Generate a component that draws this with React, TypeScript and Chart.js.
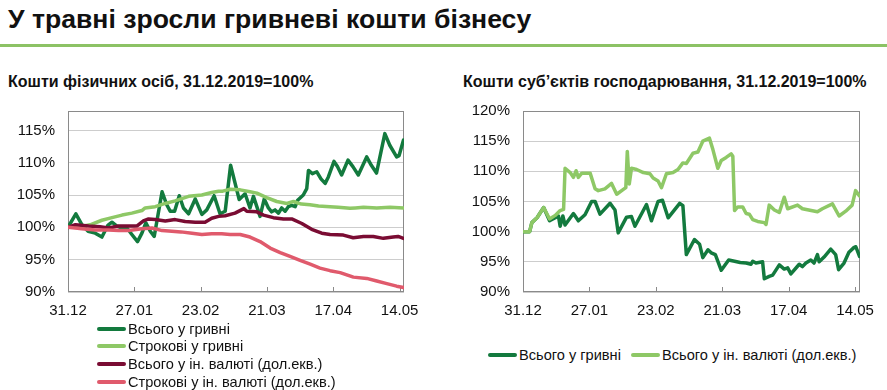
import React, { useEffect, useRef } from "react";
import { Chart, registerables } from "chart.js";

Chart.register(...registerables);

// ---------- shared ----------
const tickLabels = ["31.12", "27.01", "23.02", "21.03", "17.04", "14.05"];
const tickDays = [0, 27, 54, 81, 108, 135];

// ---------- left chart: households ----------
const hhUahTotalDays = [0, 3.2, 5.7, 8.2, 11.1, 13.8, 16.2, 17.9, 19.9, 22, 24, 26, 28.3, 30.1, 31.7, 33.5, 35.1, 38.3, 40.2, 41.6, 43.4, 45.3, 47, 49.1, 51.8, 54.5, 56.5, 59.5, 61.9, 64, 66.2, 69.7, 72.1, 74.1, 75.5, 78.2, 79.9, 81.6, 82.9, 84.3, 85.7, 87, 88.4, 89.7, 91.1, 92.5, 93.5, 95.8, 97.2, 97.9, 99.5, 101.3, 103, 104.7, 106, 108.3, 109.7, 111.4, 114, 116, 118.2, 121.6, 123.5, 125.6, 129, 131, 133.8, 134.8, 136.6];
const hhUahTotal = [100, 102.1, 100.4, 99.4, 99.1, 98.5, 100.3, 100.8, 100.2, 99.9, 99.9, 98.9, 97.8, 99.1, 100.7, 99.4, 98.6, 105.5, 103.5, 102.5, 102.5, 104.9, 103.0, 102.1, 104.4, 102.0, 102.7, 104.9, 102.1, 102.5, 109.6, 104.3, 105.2, 103.0, 104.8, 101.7, 104.4, 103.0, 102.4, 102.7, 102.2, 103.0, 102.5, 103.2, 103.4, 103.2, 104.2, 105.0, 106.0, 108.8, 108.3, 108.6, 107.5, 106.8, 107.8, 110.2, 109.4, 108.1, 110.4, 109.4, 108.1, 110.9, 109.6, 108.4, 114.5, 112.7, 110.9, 111.1, 113.5];

const hhUahTermDays = [0, 5, 9, 13.8, 17.9, 22, 26, 30.1, 31.4, 35.5, 39.6, 43.6, 49.1, 54.5, 58.5, 61.3, 63, 66, 70.1, 74.1, 76.9, 80.9, 85, 89.1, 91.8, 95, 98.5, 102, 106.7, 110, 114.8, 117, 120.3, 125.7, 131.1, 136.6];
const hhUahTerm = [100, 100.1, 100.4, 101.1, 101.5, 101.9, 102.2, 102.6, 103.0, 103.2, 103.7, 104.1, 104.8, 105.0, 105.4, 105.6, 105.6, 105.9, 105.8, 105.5, 105.3, 104.6, 104.0, 103.7, 104.0, 103.6, 103.5, 103.3, 103.2, 103.1, 102.95, 103.0, 103.1, 103.0, 103.1, 103.0];

const hhFxTotalDays = [0, 3, 8.4, 13, 16.5, 20.6, 24.7, 28, 30.7, 32.8, 35.5, 39.6, 43.6, 47.7, 51.8, 55.8, 58.5, 61.3, 64, 68, 71.6, 72.8, 76.9, 79.6, 83.6, 87.7, 91.1, 95.2, 99.2, 103.3, 106.7, 112.1, 116.1, 120.3, 124.3, 128.4, 132.4, 134.4, 136.6];
const hhFxTotal = [100, 100.4, 100.2, 100.1, 99.9, 100.2, 100.2, 100.2, 101.0, 101.3, 101.2, 101.0, 101.2, 100.9, 100.8, 100.8, 101.4, 101.7, 101.8, 102.2, 102.9, 102.5, 102.4, 101.9, 101.5, 101.3, 101.3, 100.6, 99.7, 99.1, 98.9, 98.8, 98.4, 98.6, 98.6, 98.3, 98.5, 98.6, 98.3];

const hhFxTermDays = [0, 5.7, 11.1, 16.5, 20.6, 24.7, 30.1, 34.2, 38.3, 42.3, 46, 50.5, 54.5, 58.5, 62.6, 66, 70.1, 74.1, 78.2, 82.3, 86.4, 90.4, 94.5, 98.6, 102.6, 106.7, 110.8, 116.2, 121.6, 125.7, 129.8, 133.8, 136.6];
const hhFxTerm = [100, 99.8, 99.6, 99.6, 99.5, 99.5, 99.8, 99.9, 99.5, 99.4, 99.3, 99.1, 98.9, 99.0, 99.0, 98.9, 98.9, 98.5, 97.8, 96.8, 96.1, 95.5, 94.9, 94.3, 93.7, 93.3, 93.0, 92.3, 92.1, 91.7, 91.3, 90.9, 90.7];

// ---------- right chart: businesses ----------
const bizUahDays = [0, 2.7, 3.6, 5.7, 8.4, 10.8, 13.1, 14.4, 15.1, 16.2, 17.1, 20.5, 22.5, 25.2, 27.9, 29.3, 31.3, 35.4, 37.4, 38.7, 42.1, 44.1, 45.5, 50.2, 52.2, 54.9, 56.7, 59, 63.7, 65, 66.4, 69.7, 71.8, 73.1, 75.2, 76.5, 78.2, 80.6, 83.6, 86, 88.3, 90.7, 92.7, 93.4, 94.7, 97.4, 98.1, 100.1, 101.5, 104.2, 106.2, 107.6, 108.9, 112.3, 113.6, 115, 117, 118.3, 119.7, 120.4, 122.4, 125.1, 127.1, 128.3, 130.5, 132.5, 134.6, 135.3, 136.8];
const bizUah = [100, 100, 101.5, 102.3, 104.0, 101.8, 102.3, 102.6, 100.9, 102.6, 101.1, 103.0, 101.8, 102.8, 105.0, 105.0, 102.9, 104.7, 103.6, 99.8, 102.4, 102.5, 100.9, 104.5, 101.8, 105.0, 105.2, 102.3, 104.7, 104.3, 96.2, 98.7, 97.9, 95.7, 97.0, 96.5, 96.2, 93.6, 95.3, 95.1, 94.9, 94.8, 94.6, 95.1, 94.8, 95.0, 92.2, 92.6, 92.8, 94.5, 93.8, 94.0, 93.0, 94.6, 94.2, 94.8, 95.3, 94.8, 96.2, 95.0, 95.8, 97.1, 96.2, 93.7, 94.8, 96.6, 97.4, 97.5, 95.9];

const bizFxDays = [0, 2.7, 3.6, 5.7, 8.4, 10.8, 13.1, 15.1, 16.5, 17.1, 19.2, 20.5, 21.6, 22.5, 23.9, 27.3, 29.3, 30.6, 33.3, 36, 38.1, 40.8, 41.8, 42.4, 43.2, 44.1, 46.2, 48.9, 51.6, 52.9, 54.9, 56.3, 58.3, 61, 63, 65, 66.4, 69.1, 71.1, 73.1, 75.8, 77.2, 79.2, 80.6, 82.6, 84.6, 85.3, 86, 87.3, 89.3, 90.7, 92, 93.4, 95.4, 98.1, 98.8, 100.1, 102.2, 104.2, 106.2, 107.6, 111.6, 113.6, 119.7, 121.7, 125.8, 128.5, 131.2, 133.8, 135.2, 136.8];
const bizFx = [100, 100, 101.5, 102.3, 104.0, 102.1, 102.7, 103.5, 103.7, 110.5, 109.8, 109.0, 110.1, 109.0, 109.7, 109.7, 107.1, 106.8, 107.1, 108.0, 106.2, 107.0, 107.3, 113.3, 107.9, 110.5, 110.3, 109.8, 109.6, 108.9, 108.4, 107.3, 109.6, 109.8, 110.3, 111.4, 111.3, 113.0, 113.2, 115.0, 115.5, 113.6, 110.5, 111.8, 112.3, 112.9, 112.5, 103.5, 104.1, 104.1, 103.0, 102.9, 102.0, 101.7, 101.5, 101.2, 104.4, 103.6, 103.2, 105.7, 103.8, 104.4, 103.8, 103.3, 103.8, 104.6, 102.6, 103.4, 104.4, 106.8, 105.9];

// ---------- colours ----------
const DARK_GREEN = "#137a3e";
const LIGHT_GREEN = "#8ec866";
const MAROON = "#7a0c33";
const PINK = "#e05a6c";

const FONT = "'Liberation Sans', Arial, sans-serif";

const toPts = (days: number[], vals: number[]) => days.map((d, i) => ({ x: d, y: vals[i] }));

const framePlugin = {
  id: "frame",
  beforeDatasetsDraw(chart: any) {
    const { ctx, chartArea: a, scales } = chart;
    ctx.save();
    ctx.strokeStyle = "#8a8a8a";
    ctx.lineWidth = 1;
    ctx.strokeRect(Math.round(a.left) + 0.5, Math.round(a.top) + 0.5, Math.round(a.right - a.left) - 1, Math.round(a.bottom - a.top) - 1);
    ctx.beginPath();
    const xs = scales.x;
    xs.ticks.forEach((t: any) => {
      const px = Math.round(xs.getPixelForValue(t.value)) + 0.5;
      ctx.moveTo(px, a.bottom);
      ctx.lineTo(px, a.bottom - 5);
    });
    ctx.stroke();
    ctx.restore();
  },
};

function makeOptions(yMin: number, yMax: number, xMax: number, yWidth: number, padRight: number) {
  return {
    responsive: false,
    animation: false as const,
    devicePixelRatio: 1,
    layout: { padding: { left: 0, right: padRight, top: 11, bottom: 0 } },
    plugins: { legend: { display: false }, tooltip: { enabled: false } },
    elements: { point: { radius: 0 }, line: { tension: 0, borderWidth: 3.5, borderCapStyle: "round", borderJoinStyle: "round" } },
    scales: {
      x: {
        type: "linear",
        min: 0,
        max: xMax,
        afterFit: (s: any) => { s.height = 30; s.paddingLeft = 0; s.paddingRight = 0; },
        afterBuildTicks: (s: any) => { s.ticks = tickDays.map((v) => ({ value: v })); },
        ticks: {
          autoSkip: false,
          maxRotation: 0,
          padding: 10,
          color: "#111",
          font: { family: FONT, size: 15 },
          callback: (v: number) => { const i = tickDays.indexOf(v); return i >= 0 ? tickLabels[i] : ""; },
        },
        grid: { display: false, drawTicks: false },
        border: { display: false },
      },
      y: {
        min: yMin,
        max: yMax,
        afterFit: (s: any) => { s.width = yWidth; s.paddingTop = 0; s.paddingBottom = 0; },
        ticks: {
          stepSize: 5,
          padding: 13,
          color: "#111",
          font: { family: FONT, size: 15 },
          callback: (v: number) => (Math.abs(v % 5) < 1e-9 ? v + "%" : ""),
        },
        grid: { color: "#cdcdcd", lineWidth: 1, drawTicks: false },
        border: { display: false },
      },
    },
  };
}

function ChartCanvas({ config, width, height, style }: any) {
  const ref = useRef<HTMLCanvasElement | null>(null);
  useEffect(() => {
    if (!ref.current) return;
    const chart = new Chart(ref.current, config);
    return () => chart.destroy();
  }, []);
  return <canvas ref={ref} width={width} height={height} style={{ position: "absolute", width, height, ...style }} />;
}

const leftConfig: any = {
  type: "line",
  data: {
    datasets: [
      { label: "Всього у гривні", data: toPts(hhUahTotalDays, hhUahTotal), borderColor: DARK_GREEN, order: 3 },
      { label: "Строкові у гривні", data: toPts(hhUahTermDays, hhUahTerm), borderColor: LIGHT_GREEN, order: 2 },
      { label: "Всього у ін. валюті (дол.екв.)", data: toPts(hhFxTotalDays, hhFxTotal), borderColor: MAROON, order: 1 },
      { label: "Строкові у ін. валюті (дол.екв.)", data: toPts(hhFxTermDays, hhFxTerm), borderColor: PINK, order: 0 },
    ],
  },
  options: makeOptions(90, 118, 136.8, 68, 16),
  plugins: [framePlugin],
};

const rightConfig: any = {
  type: "line",
  data: {
    datasets: [
      { label: "Всього у гривні", data: toPts(bizUahDays, bizUah), borderColor: DARK_GREEN, order: 1 },
      { label: "Всього у ін. валюті (дол.екв.)", data: toPts(bizFxDays, bizFx), borderColor: LIGHT_GREEN, order: 0 },
    ],
  },
  options: makeOptions(90, 120, 137, 83, 27),
  plugins: [framePlugin],
};

const legendLeft = [
  { label: "Всього у гривні", color: DARK_GREEN },
  { label: "Строкові у гривні", color: LIGHT_GREEN },
  { label: "Всього у ін. валюті (дол.екв.)", color: MAROON },
  { label: "Строкові у ін. валюті (дол.екв.)", color: PINK },
];
const legendRight = [
  { label: "Всього у гривні", color: DARK_GREEN, left: 488 },
  { label: "Всього у ін. валюті (дол.екв.)", color: LIGHT_GREEN, left: 631 },
];

function LegendItem({ label, color }: { label: string; color: string }) {
  return (
    <div style={{ display: "flex", alignItems: "center", height: 17.6, whiteSpace: "nowrap" }}>
      <span style={{ display: "inline-block", width: 29, height: 4, background: color, borderRadius: 2, marginRight: 2 }} />
      <span>{label}</span>
    </div>
  );
}

export default function App() {
  return (
    <div style={{ position: "absolute", left: 0, top: 0, width: 887, height: 390, background: "#fff", fontFamily: FONT, color: "#111", overflow: "hidden" }}>
      <div style={{ position: "absolute", left: 8, top: 4, fontSize: 26.6, lineHeight: "30px", fontWeight: 700, whiteSpace: "nowrap" }}>
        У травні зросли гривневі кошти бізнесу
      </div>
      <div style={{ position: "absolute", left: 0, top: 44, width: 887, height: 3, background: "#8cc265" }} />
      <div style={{ position: "absolute", left: 8, top: 73, fontSize: 16, lineHeight: "18px", fontWeight: 700, whiteSpace: "nowrap" }}>
        Кошти фізичних осіб, 31.12.2019=100%
      </div>
      <div style={{ position: "absolute", left: 463, top: 73, fontSize: 16, lineHeight: "18px", fontWeight: 700, whiteSpace: "nowrap" }}>
        Кошти суб’єктів господарювання, 31.12.2019=100%
      </div>

      <ChartCanvas config={leftConfig} width={420} height={222} style={{ left: 0, top: 100 }} />
      <ChartCanvas config={rightConfig} width={447} height={222} style={{ left: 440, top: 100 }} />

      <div style={{ position: "absolute", left: 97, top: 320, fontSize: 14.6 }}>
        {legendLeft.map((l) => <LegendItem key={l.label} label={l.label} color={l.color} />)}
      </div>
      {legendRight.map((l) => (
        <div key={l.label} style={{ position: "absolute", left: l.left, top: 346, fontSize: 14.6 }}>
          <LegendItem label={l.label} color={l.color} />
        </div>
      ))}
    </div>
  );
}
